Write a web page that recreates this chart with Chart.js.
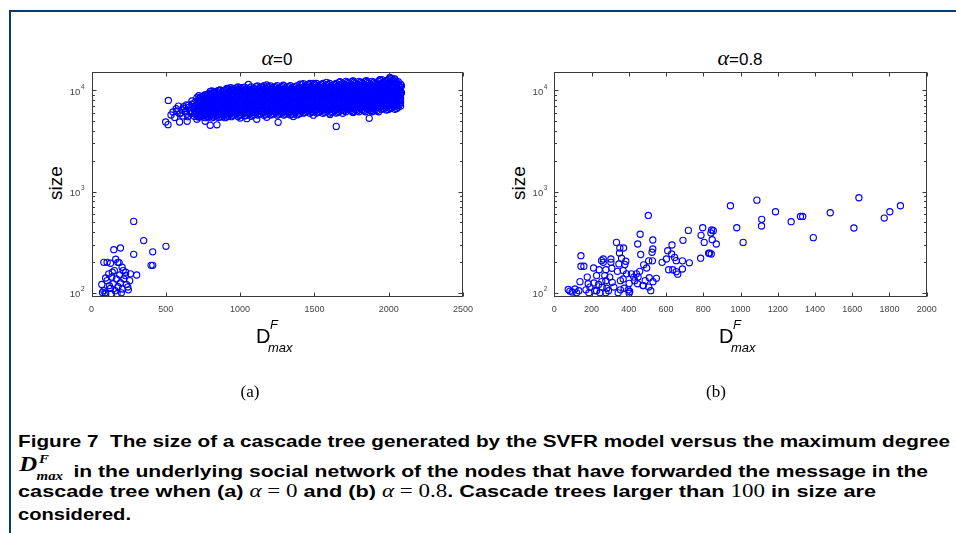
<!DOCTYPE html>
<html>
<head>
<meta charset="utf-8">
<script src="https://cdn.jsdelivr.net/npm/chart.js@4.4.1/dist/chart.umd.min.js"></script>
<style>
  body { margin: 0; width: 956px; height: 533px; background: #fff; position: relative; overflow: hidden;
         font-family: 'Liberation Sans', Arial, sans-serif; color: #000; }
  .frame-top { position: absolute; left: 9px; top: 10px; width: 947px; height: 2px; background: #0a3a6b; }
  .frame-left { position: absolute; left: 9px; top: 10px; width: 2px; height: 523px; background: #0a3a6b; }
  canvas { position: absolute; }
  #chartA { left: 40px; top: 60px; }
  #chartB { left: 502px; top: 60px; }
  .title { position: absolute; top: 47px; font-size: 17px; line-height: 22px; transform: translateX(-50%); white-space: nowrap; }
  .title i { font-family: 'Liberation Serif', serif; font-size: 22px; }
  .ylab { position: absolute; font-size: 19px; line-height: 20px; white-space: nowrap;
          transform: translate(-50%, -50%) rotate(-90deg); }
  .xlab { position: absolute; top: 322px; height: 36px; width: 40px; }
  .xlab .d { position: absolute; left: 0; top: 4px; font-size: 20px; line-height: 20px; }
  .xlab .f { position: absolute; left: 14px; top: -4px; font-size: 13px; font-style: italic; line-height: 14px; }
  .xlab .mx { position: absolute; left: 12px; top: 19px; font-size: 13px; font-style: italic; line-height: 14px; }
  .sub { position: absolute; top: 382px; font-family: 'Liberation Serif', serif; font-size: 17px; transform: translateX(-50%); }
  .cap { position: absolute; left: 18px; font-weight: bold; font-size: 17px; line-height: 20px; white-space: nowrap; transform-origin: 0 50%; }
  .m { font-family: 'Liberation Serif', serif; font-weight: normal; font-size: 18px; }
  .md { position: relative; display: inline-block; width: 40px; height: 20px; font-family: 'Liberation Serif', serif;
        font-style: italic; font-weight: bold; }
  .md .D { position: absolute; left: 1px; top: -3px; font-size: 20px; }
  .md .F { position: absolute; left: 17px; top: -8px; font-size: 12px; }
  .md .mx { position: absolute; left: 15px; top: 9px; font-size: 12px; }
</style>
</head>
<body>
<div class="frame-top"></div>
<div class="frame-left"></div>

<div class="title" style="left:277px"><i>α</i>=0</div>
<div class="title" style="left:740px"><i>α</i>=0.8</div>

<div class="ylab" style="left:56px; top:183px">size</div>
<div class="ylab" style="left:519px; top:183px">size</div>

<canvas id="chartA" width="440" height="265"></canvas>
<canvas id="chartB" width="440" height="265"></canvas>

<div class="xlab" style="left:256px"><span class="d">D</span><span class="f">F</span><span class="mx">max</span></div>
<div class="xlab" style="left:719px"><span class="d">D</span><span class="f">F</span><span class="mx">max</span></div>

<div class="sub" style="left:250px">(a)</div>
<div class="sub" style="left:716px">(b)</div>

<div class="cap" id="cap1" style="top:432px">Figure 7&nbsp; The size of a cascade tree generated by the SVFR model versus the maximum degree</div>
<div class="cap" id="cap2" style="top:457px"><span class="md"><span class="D">D</span><span class="F">F</span><span class="mx">max</span></span> in the underlying social network of the nodes that have forwarded the message in the</div>
<div class="cap" id="cap3" style="top:481px">cascade tree when (a) <span class="m"><i>α</i> = 0</span> and (b) <span class="m"><i>α</i> = 0.8</span>. Cascade trees larger than <span class="m">100</span> in size are</div>
<div class="cap" id="cap4" style="top:505px">considered.</div>

<script>
// alpha = 0: dense cloud, one row per column of x: [x, size, size, ...]
const cloudColumnsA = [
  [722, 5450, 5700, 6150, 6450, 6950, 7300, 7850, 8300, 8850],
  [744, 5600, 5950, 6250, 6750, 7150, 7500, 8100, 8650],
  [766, 5380, 5800, 6080, 6550, 6880, 7400, 7760, 8400, 9050],
  [788, 5520, 5870, 6350, 6680, 7120, 7600, 8000, 8700, 9300],
  [810, 5350, 5820, 6220, 6800, 7280, 7950, 8500, 9250, 9900],
  [832, 5580, 6000, 6530, 7000, 7640, 8180, 8900, 9650],
  [854, 5400, 5760, 6280, 6740, 7330, 7880, 8560, 9200, 10000],
  [876, 5520, 6040, 6480, 7060, 7580, 8240, 8850, 9580],
  [898, 5380, 5800, 6230, 6780, 7280, 7930, 8520, 9260, 10050],
  [920, 5600, 5980, 6520, 7000, 7630, 8190, 8900, 9620, 10300],
  [942, 5500, 6060, 6530, 7160, 7720, 8450, 9120, 9980, 10600],
  [964, 5800, 6260, 6870, 7400, 8110, 8750, 9570, 10350],
  [986, 5530, 6000, 6590, 7100, 7780, 8390, 9180, 9920, 10800],
  [1008, 5760, 6320, 6810, 7460, 8050, 8810, 9510, 10400],
  [1030, 5580, 6050, 6540, 7150, 7730, 8440, 9130, 9970, 10750],
  [1052, 5820, 6270, 6860, 7410, 8100, 8760, 9560, 10330],
  [1074, 5540, 6010, 6580, 7110, 7770, 8400, 9170, 9930, 10850],
  [1096, 5780, 6310, 6820, 7450, 8060, 8800, 9520, 10400],
  [1118, 5720, 6180, 6760, 7300, 7980, 8630, 9420, 10200, 11050],
  [1140, 5920, 6480, 7000, 7650, 8280, 9040, 9780, 10680],
  [1162, 5680, 6220, 6720, 7340, 7940, 8670, 9380, 10260, 11120],
  [1184, 5960, 6440, 7040, 7610, 8320, 9000, 9830, 10640],
  [1206, 5710, 6190, 6770, 7310, 7990, 8640, 9430, 10210, 11080],
  [1228, 5930, 6470, 7010, 7640, 8290, 9030, 9790, 10690],
  [1250, 5690, 6210, 6730, 7330, 7950, 8660, 9390, 10250, 11150],
  [1272, 5950, 6450, 7030, 7620, 8310, 9010, 9820, 10650],
  [1294, 5720, 6200, 6750, 7320, 7970, 8650, 9410, 10220, 11100],
  [1316, 5940, 6470, 7020, 7640, 8290, 9030, 9800, 10670],
  [1338, 5700, 6190, 6740, 7310, 7960, 8640, 9400, 10240, 11130],
  [1360, 5960, 6450, 7030, 7620, 8310, 9010, 9810, 10660],
  [1382, 5730, 6210, 6750, 7330, 7970, 8660, 9410, 10230, 11090],
  [1404, 5930, 6470, 7010, 7640, 8290, 9030, 9790, 10680],
  [1426, 5960, 6480, 7030, 7670, 8330, 9090, 9870, 10760, 11680],
  [1448, 6210, 6740, 7360, 7990, 8710, 9460, 10310, 11210],
  [1470, 5940, 6460, 7050, 7650, 8350, 9070, 9890, 10740, 11720],
  [1492, 6190, 6760, 7340, 8010, 8690, 9480, 10290, 11230],
  [1514, 5970, 6470, 7040, 7660, 8340, 9080, 9880, 10760, 11690],
  [1536, 6200, 6740, 7350, 8000, 8700, 9470, 10300, 11220],
  [1558, 5950, 6480, 7030, 7670, 8330, 9090, 9870, 10750, 11710],
  [1580, 6210, 6750, 7360, 7990, 8710, 9460, 10310, 11210],
  [1602, 5960, 6460, 7050, 7650, 8350, 9070, 9890, 10740, 11700],
  [1624, 6190, 6760, 7340, 8010, 8690, 9480, 10290, 11230],
  [1646, 5970, 6470, 7040, 7660, 8340, 9080, 9880, 10760, 11690],
  [1668, 6200, 6740, 7350, 8000, 8700, 9470, 10300, 11220, 12000],
  [1690, 5950, 6480, 7030, 7670, 8330, 9090, 9870, 10750, 11710],
  [1712, 6160, 6720, 7300, 7980, 8690, 9500, 10330, 11290, 12280],
  [1734, 6430, 6990, 7650, 8320, 9090, 9890, 10810, 11770],
  [1756, 6140, 6710, 7320, 7960, 8710, 9480, 10350, 11270, 12310],
  [1778, 6410, 7010, 7630, 8340, 9070, 9910, 10790, 11790],
  [1800, 6160, 6700, 7310, 7980, 8690, 9500, 10330, 11290, 12290],
  [1822, 6430, 6990, 7650, 8320, 9090, 9890, 10810, 11770],
  [1844, 6140, 6720, 7300, 7970, 8710, 9480, 10350, 11270, 12320],
  [1866, 6420, 7010, 7630, 8340, 9070, 9910, 10790, 11790],
  [1888, 6160, 6700, 7320, 7980, 8690, 9500, 10340, 11290, 12290],
  [1910, 6430, 6990, 7650, 8330, 9090, 9890, 10800, 11770],
  [1932, 6150, 6720, 7300, 7970, 8700, 9480, 10350, 11280, 12310],
  [1954, 6500, 7080, 7690, 8390, 9110, 9940, 10790, 11770, 12780],
  [1976, 6790, 7370, 8040, 8730, 9520, 10340, 11280, 12260],
  [1998, 6480, 7060, 7710, 8370, 9130, 9920, 10810, 11750, 12820],
  [2020, 6770, 7390, 8020, 8750, 9500, 10360, 11260, 12280, 13100],
  [2042, 6520, 7070, 7690, 8390, 9110, 9940, 10790, 11770, 12700],
  [2064, 6800, 7370, 8040, 8730, 9520, 10340, 11280, 12200],
  [2080, 7000, 7600, 8300, 9000, 9800, 10700, 11500]
];

// alpha = 0: more of the cloud, between the columns above
const cloudColumnsA2 = [
  [733, 5490, 5850, 6230, 6650, 7080, 7550, 8050, 8580],
  [755, 5660, 6030, 6430, 6860, 7310, 7790, 8300, 8850],
  [777, 5480, 5850, 6240, 6640, 7090, 7550, 8040, 8570, 9100],
  [799, 5670, 6130, 6630, 7160, 7740, 8370, 9050, 9780],
  [821, 5460, 5900, 6370, 6890, 7450, 8050, 8710, 9410],
  [843, 5670, 6130, 6620, 7170, 7740, 8370, 9050, 9780],
  [865, 5450, 5900, 6380, 6890, 7450, 8050, 8700, 9410, 10100],
  [887, 5670, 6130, 6630, 7160, 7750, 8370, 9050, 9790],
  [909, 5460, 5900, 6370, 6890, 7450, 8060, 8710, 9410, 10150],
  [931, 5910, 6420, 6980, 7590, 8250, 8970, 9750, 10590],
  [953, 5670, 6160, 6700, 7280, 7910, 8600, 9350, 10160],
  [975, 5900, 6420, 6980, 7590, 8250, 8960, 9750, 10600],
  [997, 5670, 6160, 6700, 7280, 7910, 8600, 9350, 10160],
  [1019, 5910, 6420, 6980, 7590, 8250, 8970, 9750, 10590],
  [1041, 5660, 6160, 6690, 7280, 7910, 8600, 9350, 10170],
  [1063, 5910, 6420, 6980, 7590, 8250, 8970, 9750, 10600],
  [1085, 5670, 6160, 6700, 7280, 7910, 8600, 9350, 10160],
  [1107, 6070, 6600, 7170, 7790, 8470, 9210, 10010, 10880],
  [1129, 5820, 6330, 6880, 7480, 8130, 8830, 9600, 10440],
  [1151, 6070, 6590, 7170, 7790, 8470, 9210, 10010, 10880],
  [1173, 5820, 6330, 6880, 7470, 8130, 8830, 9600, 10440],
  [1195, 6070, 6600, 7170, 7790, 8470, 9210, 10010, 10880],
  [1217, 5820, 6330, 6870, 7480, 8130, 8830, 9600, 10440],
  [1239, 6070, 6600, 7170, 7790, 8470, 9210, 10010, 10880],
  [1261, 5820, 6330, 6880, 7470, 8120, 8830, 9600, 10440],
  [1283, 6070, 6590, 7170, 7790, 8470, 9210, 10010, 10880],
  [1305, 5820, 6330, 6880, 7480, 8130, 8840, 9600, 10440],
  [1327, 6070, 6600, 7170, 7790, 8470, 9210, 10010, 10880],
  [1349, 5820, 6320, 6880, 7470, 8130, 8830, 9600, 10440],
  [1371, 6070, 6600, 7170, 7790, 8470, 9210, 10010, 10880],
  [1393, 5820, 6330, 6880, 7480, 8130, 8830, 9600, 10440],
  [1415, 6340, 6900, 7510, 8170, 8890, 9670, 10530, 11460],
  [1437, 6080, 6610, 7200, 7830, 8520, 9270, 10090, 10980],
  [1459, 6340, 6900, 7510, 8170, 8890, 9670, 10530, 11460],
  [1481, 6080, 6610, 7200, 7830, 8520, 9270, 10090, 10980],
  [1503, 6340, 6900, 7500, 8170, 8890, 9670, 10520, 11460],
  [1525, 6080, 6610, 7200, 7830, 8520, 9270, 10090, 10980],
  [1547, 6340, 6900, 7510, 8170, 8890, 9680, 10530, 11460],
  [1569, 6080, 6610, 7200, 7830, 8520, 9270, 10090, 10980],
  [1591, 6340, 6900, 7510, 8170, 8890, 9670, 10530, 11450],
  [1613, 6080, 6620, 7200, 7830, 8520, 9270, 10090, 10980],
  [1635, 6340, 6900, 7510, 8170, 8890, 9670, 10530, 11460],
  [1657, 6080, 6610, 7200, 7830, 8520, 9280, 10090, 10980],
  [1679, 6340, 6900, 7510, 8170, 8890, 9670, 10530, 11460],
  [1701, 6290, 6850, 7470, 8150, 8890, 9690, 10570, 11530],
  [1723, 6560, 7160, 7810, 8510, 9280, 10120, 11040, 12040],
  [1745, 6290, 6850, 7470, 8150, 8890, 9690, 10570, 11530],
  [1767, 6560, 7160, 7800, 8510, 9280, 10120, 11040, 12040],
  [1789, 6280, 6850, 7470, 8150, 8890, 9690, 10570, 11530],
  [1811, 6560, 7160, 7810, 8510, 9280, 10120, 11040, 12030],
  [1833, 6290, 6850, 7470, 8150, 8890, 9690, 10570, 11530],
  [1855, 6560, 7160, 7810, 8510, 9280, 10120, 11040, 12040],
  [1877, 6290, 6850, 7470, 8150, 8890, 9690, 10570, 11520],
  [1899, 6560, 7160, 7800, 8510, 9280, 10120, 11040, 12040],
  [1921, 6290, 6850, 7470, 8150, 8890, 9690, 10570, 11530],
  [1943, 6930, 7540, 8210, 8930, 9720, 10580, 11510, 12530],
  [1965, 6640, 7230, 7870, 8560, 9320, 10140, 11040, 12010],
  [1987, 6930, 7540, 8200, 8930, 9720, 10580, 11510, 12530],
  [2009, 6640, 7230, 7870, 8560, 9320, 10140, 11040, 12010, 13000],
  [2031, 6930, 7540, 8210, 8930, 9720, 10580, 11510, 12530],
  [2053, 6640, 7230, 7860, 8560, 9320, 10140, 11040, 12010],
  [2071, 7200, 7900, 8600, 9400, 10200, 11000]
];

// alpha = 0: scattered points around the cloud edges
const edgePointsA = [
  [517, 7960], [499, 4870], [515, 4590], [535, 5720], [548, 6130], [575, 6260], [593, 5870],
  [593, 4870], [609, 6400], [627, 6640], [642, 5800], [644, 4950], [653, 7150], [665, 6130],
  [676, 7850], [687, 6640], [692, 5560], [709, 8460], [709, 5180], [720, 7150], [732, 5560],
  [754, 8790], [765, 4950], [799, 4520], [844, 4570], [787, 9130], [821, 9700], [866, 10000],
  [911, 10470], [956, 10230], [1000, 10650], [1056, 11460], [1112, 5180], [1256, 4840],
  [1647, 4410], [1869, 5300], [1179, 11300], [1291, 11250], [1403, 11500], [1493, 11700],
  [1582, 12000], [1672, 12200], [1761, 12400], [1851, 12500], [1940, 12800], [2008, 13400],
  [2041, 13000], [2086, 11100], [2086, 9500], [2079, 8000], [2052, 7000], [2008, 6700],
  [1000, 5340], [1045, 5260], [1179, 5430], [1358, 5520], [1493, 5690], [1605, 5770],
  [1761, 6050], [1896, 6250], [1985, 6400],
  [655, 6800], [662, 6300], [668, 5900], [675, 7300], [680, 6000], [684, 6900], [690, 6400],
  [695, 7600], [700, 5800], [702, 7000], [706, 6200], [710, 7800], [714, 6600], [716, 5500],
  [600, 6000], [615, 5600], [620, 6900], [632, 6200], [638, 7200], [648, 5500], [560, 5400],
  [570, 6600], [585, 7000]
];

// alpha = 0: small trees at low degree
const lowPointsA = [
  [284, 508], [351, 328], [501, 288], [412, 254], [284, 240], [195, 277], [150, 267],
  [412, 187], [401, 187], [304, 150], [83, 200], [105, 200], [128, 196], [163, 215],
  [186, 199], [206, 179], [213, 166], [69, 121], [83, 105], [92, 100], [105, 132],
  [116, 154], [128, 111], [137, 143], [146, 123], [154, 166], [159, 105], [168, 137],
  [177, 200], [179, 115], [190, 150], [195, 126], [201, 100], [208, 109], [217, 137],
  [228, 148], [235, 121], [244, 114], [248, 107], [257, 132], [262, 154], [132, 98],
  [96, 98], [172, 98], [74, 101], [120, 118], [140, 160], [230, 160], [95, 140]
];

// alpha = 0.8
const pointsB = [
  [946, 725], [1088, 824], [980, 440], [1014, 315], [1114, 532], [1113, 457], [1188, 632],
  [1272, 505], [1322, 569], [1334, 569], [1391, 351], [1482, 618], [1609, 437], [1636, 869],
  [1772, 548], [1802, 632], [1859, 725],
  [505, 582], [461, 379], [448, 304], [464, 239], [529, 333], [529, 271], [525, 252],
  [527, 207], [548, 139], [507, 207], [480, 189], [496, 176], [477, 118], [579, 200],
  [609, 261], [632, 297], [602, 216], [614, 169], [630, 242], [646, 224], [655, 208],
  [636, 169], [655, 162], [663, 153], [688, 172], [688, 207], [691, 330], [720, 414],
  [725, 198], [786, 220], [788, 370], [797, 440], [805, 315], [829, 246], [834, 246],
  [841, 390], [845, 418], [854, 411], [848, 335], [870, 304], [843, 242],
  [75, 108], [84, 104], [96, 102], [111, 109], [138, 129], [143, 233], [143, 183],
  [159, 183], [177, 143], [182, 123], [170, 107], [191, 114], [211, 176], [213, 125],
  [218, 105], [227, 148], [238, 121], [241, 169], [254, 208], [255, 129], [257, 114],
  [263, 216], [263, 200], [271, 148], [277, 169], [277, 132], [277, 100], [282, 111],
  [291, 105], [298, 143], [304, 216], [304, 200], [309, 175], [311, 127], [320, 114],
  [334, 315], [339, 163], [347, 193], [350, 248], [352, 277], [355, 132], [355, 107],
  [361, 220], [372, 277], [370, 166], [370, 137], [375, 111], [379, 190], [384, 205],
  [388, 154], [397, 107], [405, 103], [402, 124], [414, 154], [427, 143], [432, 132],
  [441, 154], [447, 123], [450, 143], [459, 163], [477, 118], [488, 132], [507, 114],
  [510, 141], [518, 105], [530, 129], [120, 100], [132, 105], [186, 100], [227, 105],
  [245, 100], [343, 100], [402, 99]
];

const xTicksA = [0, 500, 1000, 1500, 2000, 2500];
const xTicksB = [0, 200, 400, 600, 800, 1000, 1200, 1400, 1600, 1800, 2000];
const yMajorTicks = [100, 1000, 10000];
const yMinorTicks = [200, 300, 400, 500, 600, 700, 800, 900, 2000, 3000, 4000, 5000, 6000, 7000, 8000, 9000];
const yMin = 92;
const yMax = 15200;

const toXY = ([x, y]) => ({ x, y });
const columnsToXY = cols => cols.flatMap(([x, ...ys]) => ys.map(y => ({ x, y })));

/**
 * MATLAB-like box: frame, inward ticks on all four sides, 10^n labels.
 */
const boxTicks = {
  id: 'boxTicks',
  afterDatasetsDraw(chart, args, opts) {
    const { ctx, chartArea: a, scales: { x, y } } = chart;
    const L = Math.round(a.left) + 0.5, R = Math.round(a.right) - 0.5;
    const T = Math.round(a.top) + 0.5, B = Math.round(a.bottom) - 0.5;
    ctx.save();
    ctx.strokeStyle = '#3a3a3a';
    ctx.lineWidth = 1;
    ctx.beginPath();
    opts.xTicks.forEach(v => {
      const px = Math.round(x.getPixelForValue(v)) + 0.5;
      ctx.moveTo(px, B); ctx.lineTo(px, B - 4);
      ctx.moveTo(px, T); ctx.lineTo(px, T + 4);
    });
    yMajorTicks.forEach(v => {
      const py = Math.round(y.getPixelForValue(v)) + 0.5;
      ctx.moveTo(L, py); ctx.lineTo(L + 4, py);
      ctx.moveTo(R, py); ctx.lineTo(R - 4, py);
    });
    yMinorTicks.forEach(v => {
      const py = Math.round(y.getPixelForValue(v)) + 0.5;
      ctx.moveTo(L, py); ctx.lineTo(L + 2.5, py);
      ctx.moveTo(R, py); ctx.lineTo(R - 2.5, py);
    });
    ctx.stroke();
    ctx.strokeRect(L, T, R - L, B - T);

    ctx.fillStyle = '#444';
    ctx.textBaseline = 'middle';
    ctx.textAlign = 'right';
    yMajorTicks.forEach(v => {
      const py = y.getPixelForValue(v);
      const exp = String(Math.round(Math.log10(v)));
      ctx.font = '6.5px "Liberation Sans"';
      const ew = ctx.measureText(exp).width;
      ctx.fillText(exp, a.left - 7, py - 3.5);
      ctx.font = '9.5px "Liberation Sans"';
      ctx.fillText('10', a.left - 7.5 - ew, py + 1.5);
    });
    ctx.restore();
  }
};

function makeChart(id, points, xMax, xTicks, yAxisWidth, padRight) {
  const ctx = document.getElementById(id).getContext('2d');
  return new Chart(ctx, {
    type: 'scatter',
    data: {
      datasets: [{
        data: points,
        pointStyle: 'circle',
        pointRadius: 3.1,
        pointHoverRadius: 3.1,
        borderColor: '#0000ff',
        backgroundColor: 'rgba(0,0,0,0)',
        borderWidth: 1.15,
      }],
    },
    options: {
      responsive: false,
      animation: false,
      events: [],
      layout: { padding: { top: 12, right: padRight, bottom: 0, left: 0 } },
      plugins: {
        legend: { display: false },
        tooltip: { enabled: false },
        boxTicks: { xTicks },
      },
      scales: {
        x: {
          type: 'linear',
          min: 0,
          max: xMax,
          afterBuildTicks: s => { s.ticks = xTicks.map(v => ({ value: v })); },
          grid: { display: false },
          border: { display: false },
          ticks: {
            color: '#444', font: { size: 9, family: 'Liberation Sans' }, padding: 0,
            maxRotation: 0, autoSkip: false, callback: v => String(v),
          },
          afterFit: s => { s.height = 28.5; },
        },
        y: {
          type: 'logarithmic',
          min: yMin,
          max: yMax,
          grid: { display: false },
          border: { display: false },
          ticks: { display: false },
          afterFit: s => { s.width = yAxisWidth; },
        },
      },
    },
    plugins: [boxTicks],
  });
}

makeChart('chartA', [
  ...columnsToXY(cloudColumnsA), ...columnsToXY(cloudColumnsA2),
  ...edgePointsA.map(toXY), ...lowPointsA.map(toXY),
], 2500, xTicksA, 51.5, 17);
makeChart('chartB', pointsB.map(toXY), 2000, xTicksB, 52.3, 15.3);

// stretch caption lines to the widths they have in the figure
const capWidths = { cap1: 932, cap2: 910, cap3: 858, cap4: 113 };
Object.keys(capWidths).forEach(id => {
  const el = document.getElementById(id);
  const w = el.getBoundingClientRect().width;
  el.style.transform = 'scaleX(' + (capWidths[id] / w) + ')';
});
</script>
</body>
</html>
